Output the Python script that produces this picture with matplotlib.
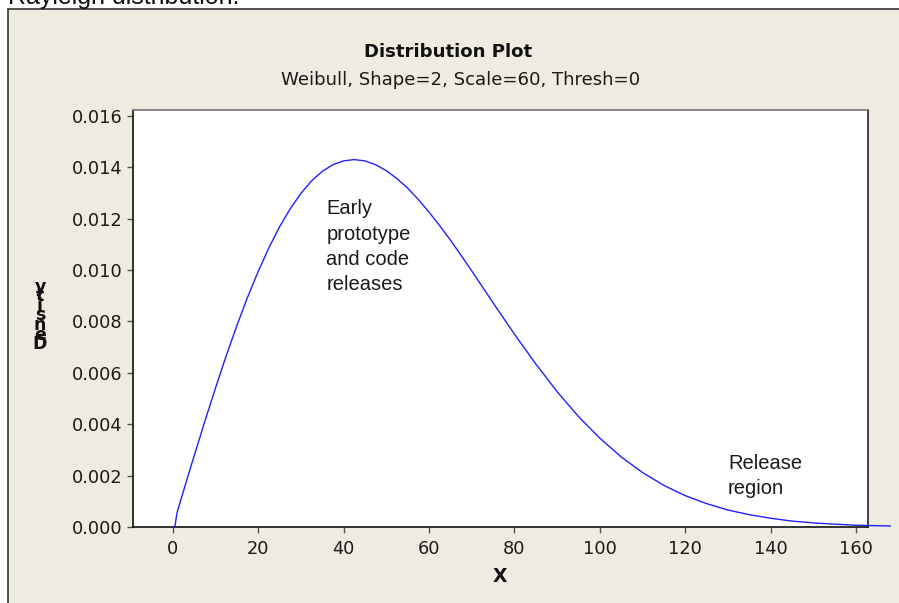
import matplotlib
matplotlib.use("Agg")
import matplotlib.pyplot as plt
from matplotlib.patches import Rectangle

# values
x_vals = [0.5, 1, 2.5, 5, 7.5, 10, 12.5, 15, 17.5, 20, 22.5, 25, 27.5, 30, 32.5,
          35, 37.5, 40, 42.5, 45, 47.5, 50, 52.5, 55, 57.5, 60, 62.5, 65, 67.5,
          70, 75, 80, 85, 90, 95, 100, 105, 110, 115, 120, 125, 130, 135, 140,
          145, 150, 155, 160, 165, 168]
density = [0.0, 0.00055, 0.00139, 0.00276, 0.00410, 0.00540, 0.00665, 0.00783,
           0.00893, 0.00994, 0.01086, 0.01168, 0.01238, 0.01298, 0.01347,
           0.01384, 0.01410, 0.01425, 0.01430, 0.01425, 0.01410, 0.01387,
           0.01356, 0.01319, 0.01275, 0.01226, 0.01173, 0.01117, 0.01058,
           0.00997, 0.00873, 0.00751, 0.00635, 0.00527, 0.00430, 0.00346,
           0.00273, 0.00212, 0.00162, 0.00122, 0.00091, 0.00066, 0.00048,
           0.00034, 0.00023, 0.00016, 0.00011, 0.00007, 0.00005, 0.00004]

x_ticks = [0, 20, 40, 60, 80, 100, 120, 140, 160]
y_ticks = [0.000, 0.002, 0.004, 0.006, 0.008, 0.010, 0.012, 0.014, 0.016]

title = "Distribution Plot"
subtitle = "Weibull, Shape=2, Scale=60, Thresh=0"
note_peak = "Early\nprototype\nand code\nreleases"
note_tail = "Release\nregion"
y_label = "Density"

W, H = 899, 603
beige = "#efebe1"

fig = plt.figure(figsize=(W / 100, H / 100), dpi=100)
fig.patch.set_facecolor("white")

# beige panel with dark border on left / top
fig.patches.append(Rectangle((7.5 / W, -0.1), 1.2, 1 - 9.5 / H + 0.1,
                             transform=fig.transFigure, facecolor=beige,
                             edgecolor="#333333", linewidth=1.2, zorder=-10))
fig.text(8 / W, 1 - 4 / H, "Rayleigh distribution.", fontsize=18,
         family="Liberation Sans", color="#111111", ha="left", va="baseline")

ax = fig.add_axes([133 / W, 1 - 527 / H, (868 - 133) / W, (527 - 110) / H])
ax.set_facecolor("white")
ax.plot(x_vals, density, color="#2020ff", linewidth=1.0, clip_on=False, zorder=5)

ax.set_xlim(-9.3, 162.8)
ax.set_ylim(0, 0.01623)
ax.set_xticks(x_ticks)
ax.set_yticks(y_ticks)
ax.set_yticklabels([f"{v:.3f}" for v in y_ticks])
ax.tick_params(axis="both", direction="out", length=4.5, width=1,
               color="#555555", labelcolor="#1a1a1a", labelsize=12.8)
ax.tick_params(axis="x", pad=5)
ax.tick_params(axis="y", pad=3)
for side in ["left", "bottom"]:
    ax.spines[side].set_color("#111111")
ax.spines["top"].set_color("#777777")
ax.spines["right"].set_color("#222222")
for s in ax.spines.values():
    s.set_linewidth(1.2)

ax.text(36, 0.01275, note_peak, fontsize=14.5, family="Liberation Sans",
        color="#1a1a1a", ha="left", va="top", linespacing=1.42)
ax.text(130, 0.00285, note_tail, fontsize=14.5, family="Liberation Sans",
        color="#1a1a1a", ha="left", va="top", linespacing=1.42)

fig.text(448 / W, 1 - 52 / H, title, fontsize=13.1, fontweight="bold",
         ha="center", va="center", color="#111111")
fig.text(461 / W, 1 - 80 / H, subtitle, fontsize=13.1,
         ha="center", va="center", color="#1a1a1a")
fig.text(500 / W, 1 - 576 / H, "X", fontsize=13.5, fontweight="bold",
         ha="center", va="center", color="#111111")

# stacked, overlapping letters of the y label (bottom to top)
for i, ch in enumerate(y_label):
    fig.text(40 / W, 1 - (344 - i * 9.5) / H, ch, fontsize=12.5,
             fontweight="bold", ha="center", va="center", color="#111111")

fig.savefig("out.png", dpi=100, facecolor=fig.get_facecolor())
